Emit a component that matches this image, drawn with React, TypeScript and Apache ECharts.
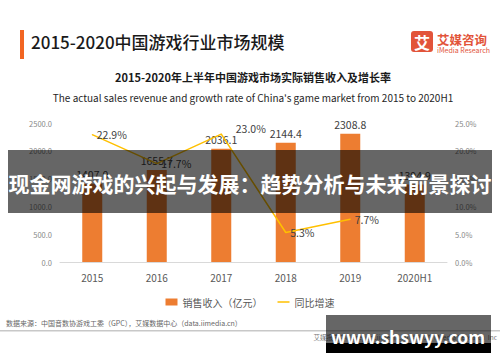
import React, { useEffect, useRef } from "react";
import * as echarts from "echarts";

const categories = ["2015", "2016", "2017", "2018", "2019", "2020H1"];
const revenue = [1407.0, 1655.7, 2036.1, 2144.4, 2308.8, 1394.9];
const growth: (number | null)[] = [22.9, 17.7, 23.0, 5.3, 7.7, null];
const leftTicks = { min: 0, max: 2500, interval: 500 };
const rightTicks = { min: 0, max: 25, interval: 5 };

const FONT = '"Noto Sans CJK SC", "Noto Sans", sans-serif';

export default function App() {
  const ref = useRef<HTMLDivElement>(null);
  useEffect(() => {
    if (!ref.current) return;
    const chart = echarts.init(ref.current, null, { renderer: "svg" });
    chart.setOption({
      animation: false,
      backgroundColor: "#ffffff",
      textStyle: { fontFamily: FONT },
      grid: { left: 60, right: 53, top: 123, bottom: 100, containLabel: false },
      legend: {
        top: 292,
        left: "center",
        itemGap: 15,
        itemWidth: 12,
        itemHeight: 7,
        textStyle: { fontSize: 10, color: "#595959", fontFamily: FONT },
        data: [
          { name: "销售收入（亿元）", icon: "rect" },
          { name: "同比增速", icon: "path://M0,0 L12,0 L12,1.5 L0,1.5 Z" },
        ],
      },
      xAxis: {
        type: "category",
        data: categories,
        axisLine: { lineStyle: { color: "#d9d9d9" } },
        axisTick: { show: false },
        axisLabel: { color: "#595959", fontSize: 10, margin: 10 },
      },
      yAxis: [
        {
          type: "value",
          ...leftTicks,
          splitLine: { show: false },
          axisLine: { show: false },
          axisTick: { show: false },
          axisLabel: {
            color: "#888",
            fontSize: 7.5,
            margin: 8,
            formatter: (v: number) => v.toFixed(1),
          },
        },
        {
          type: "value",
          ...rightTicks,
          splitLine: { show: false },
          axisLine: { show: false },
          axisTick: { show: false },
          axisLabel: {
            color: "#888",
            fontSize: 7.5,
            margin: 8,
            formatter: (v: number) => v.toFixed(1) + "%",
          },
        },
      ],
      series: [
        {
          name: "销售收入（亿元）",
          type: "bar",
          data: revenue,
          barWidth: 20,
          itemStyle: { color: "#ED7D31" },
          label: {
            show: true,
            position: "top",
            distance: 4,
            color: "#404040",
            fontSize: 10.5,
            formatter: (p: any) => Number(p.value).toFixed(1),
          },
        },
        {
          name: "同比增速",
          type: "line",
          yAxisIndex: 1,
          data: growth.map((v, i) =>
            i === 2
              ? { value: v, label: { offset: [10, -6] } }
              : { value: v }
          ),
          symbol: "circle",
          symbolSize: 1,
          showSymbol: true,
          lineStyle: { color: "#FFC000", width: 1.5 },
          itemStyle: { color: "#FFC000" },
          label: {
            show: true,
            position: "right",
            distance: 4,
            color: "#404040",
            fontSize: 10.5,
            formatter: (p: any) => Number(p.value).toFixed(1) + "%",
          },
        },
      ],
      graphic: [
        { type: "rect", left: 20, top: 30, shape: { width: 4, height: 29 }, style: { fill: "#F26522" } },
        {
          type: "text",
          left: 31,
          top: 33,
          style: { text: "2015-2020中国游戏行业市场规模", fontSize: 17, fontWeight: 500, fill: "#1a1a1a", fontFamily: FONT },
        },
        { type: "rect", left: 411, top: 31, shape: { width: 22, height: 21, r: 3 }, style: { fill: "#E2543A" } },
        {
          type: "text",
          x: 422,
          y: 41.5,
          style: { text: "艾", fontSize: 16, fontWeight: "bold", fill: "#fff", align: "center", verticalAlign: "middle", fontFamily: FONT },
        },
        {
          type: "text",
          x: 437,
          y: 39,
          style: { text: "艾媒咨询", fontSize: 12.5, fontWeight: "bold", fill: "#E2543A", verticalAlign: "middle", fontFamily: FONT },
        },
        {
          type: "text",
          x: 437,
          y: 50,
          style: { text: "iMedia Research", fontSize: 7, fill: "#E2543A", verticalAlign: "middle", fontFamily: FONT },
        },
        {
          type: "text",
          x: 253,
          y: 77,
          style: { text: "2015-2020年上半年中国游戏市场实际销售收入及增长率", fontSize: 11, fontWeight: "bold", fill: "#1a1a1a", align: "center", verticalAlign: "middle", fontFamily: FONT },
        },
        {
          type: "text",
          x: 253,
          y: 97,
          style: { text: "The actual sales revenue and growth rate of China's game market from 2015 to 2020H1", fontSize: 10, fill: "#262626", align: "center", verticalAlign: "middle", fontFamily: FONT },
        },
        {
          type: "text",
          x: 6,
          y: 323,
          style: { text: "数据来源：中国音数协游戏工委（GPC），艾媒数据中心（data.iimedia.cn）", fontSize: 7, fill: "#666", verticalAlign: "middle", fontFamily: FONT },
        },
        { type: "rect", left: 0, top: 330, shape: { width: 500, height: 1.5 }, style: { fill: "#c8c8c8" } },
        {
          type: "text",
          x: 497,
          y: 337,
          style: { text: "艾媒报告中心: report.iimedia.cn  ©2020  iiMedia Research  Inc", fontSize: 6.5, fill: "#777", align: "right", verticalAlign: "middle", fontFamily: FONT },
        },
        {
          type: "rect",
          left: 8,
          top: 150,
          z: 100,
          shape: { width: 484, height: 63 },
          style: { fill: "rgba(0,0,0,0.6)" },
        },
        {
          type: "text",
          x: 250,
          y: 183,
          z: 101,
          style: { text: "现金网游戏的兴起与发展：趋势分析与未来前景探讨", fontSize: 21, fontWeight: "bold", fill: "#fff", align: "center", verticalAlign: "middle", fontFamily: FONT },
        },
        {
          type: "rect",
          left: 326,
          top: 315,
          z: 100,
          shape: { width: 165, height: 28 },
          style: { fill: "rgba(0,0,0,0.6)" },
        },
        {
          type: "rect",
          left: 326,
          top: 343,
          z: 100,
          shape: { width: 165, height: 10 },
          style: { fill: "#000" },
        },
        {
          type: "text",
          x: 408,
          y: 336,
          z: 101,
          style: { text: "www.shswyy.com", fontSize: 17.5, fontWeight: "bold", fill: "#fff", align: "center", verticalAlign: "middle", fontFamily: FONT },
        },
      ],
    });
    return () => chart.dispose();
  }, []);
  return <div ref={ref} style={{ width: 500, height: 362, position: "absolute", left: 0, top: 0 }} />;
}
